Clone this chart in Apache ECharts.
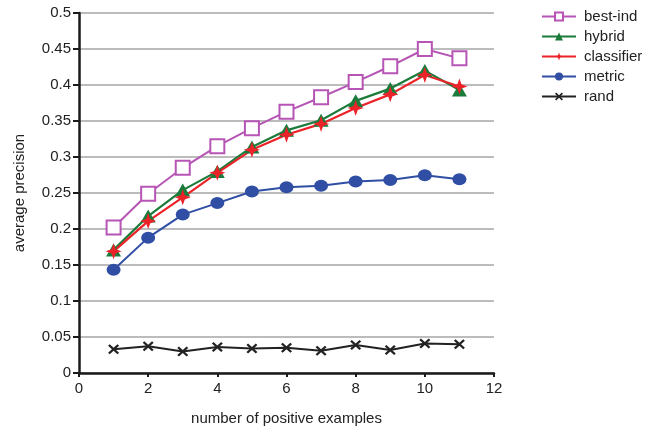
<!DOCTYPE html>
<html><head><meta charset="utf-8">
<script src="https://cdn.jsdelivr.net/npm/echarts@6/dist/echarts.min.js"></script>
<style>html,body{margin:0;padding:0;background:#fff}#c{width:665px;height:431px}</style>
</head><body><div id="c"></div>
<script>
const xValues = [1,2,3,4,5,6,7,8,9,10,11];
const bestInd = [0.202,0.249,0.285,0.315,0.340,0.363,0.383,0.404,0.426,0.450,0.437];
const hybrid = [0.171,0.218,0.254,0.280,0.314,0.337,0.351,0.378,0.395,0.420,0.393];
const classifier = [0.169,0.211,0.244,0.278,0.310,0.331,0.346,0.368,0.387,0.414,0.398];
const metric = [0.1435,0.188,0.220,0.236,0.252,0.258,0.260,0.266,0.268,0.2746,0.269];
const rand = [0.033,0.037,0.030,0.036,0.034,0.035,0.031,0.039,0.032,0.041,0.040];
const seriesNames = ['best-ind','hybrid','classifier','metric','rand'];

const star4 = 'path://M0,-10 L2.6,-2.6 L10,0 L2.6,2.6 L0,10 L-2.6,2.6 L-10,0 L-2.6,-2.6 Z';
const cross = 'path://M-10,-7 L-7,-10 L0,-3 L7,-10 L10,-7 L3,0 L10,7 L7,10 L0,3 L-7,10 L-10,7 L-3,0 Z';

function pts(arr){ return xValues.map((x,i)=>[x,arr[i]]); }
const font = 'Liberation Sans, Arial, sans-serif';

const chart = echarts.init(document.getElementById('c'));
chart.setOption({
  animation:false,
  backgroundColor:'#fff',
  grid:{left:79,right:171,top:13,bottom:57,containLabel:false},
  legend:{
    orient:'vertical', left:536, top:4, itemWidth:34, itemHeight:10, itemGap:5,
    textStyle:{fontFamily:font,fontSize:15,color:'#222',padding:[0,0,0,3]},
    data:seriesNames
  },
  xAxis:{
    type:'value', min:0, max:12, interval:2,
    name:'number of positive examples', nameLocation:'middle', nameGap:38,
    nameTextStyle:{fontFamily:font,fontSize:15,color:'#222'},
    axisLine:{lineStyle:{color:'#1a1a1a',width:2.5}},
    axisTick:{show:true,length:4,lineStyle:{color:'#1a1a1a',width:2}},
    axisLabel:{fontFamily:font,fontSize:15,color:'#222',margin:8},
    splitLine:{show:false}
  },
  yAxis:{
    type:'value', min:0, max:0.5, interval:0.05,
    name:'average precision', nameLocation:'middle', nameGap:52, nameRotate:90,
    nameTextStyle:{fontFamily:font,fontSize:15,color:'#222'},
    axisLine:{show:true,lineStyle:{color:'#1a1a1a',width:2.5}},
    axisTick:{show:true,length:6,lineStyle:{color:'#1a1a1a',width:2}},
    axisLabel:{fontFamily:font,fontSize:15,color:'#222',margin:8},
    splitLine:{show:true,lineStyle:{color:'#a6a6a6',width:1.5}}
  },
  series:[
    {name:'best-ind',type:'line',data:pts(bestInd),symbol:'rect',symbolSize:14,
     lineStyle:{color:'#b655b5',width:2},itemStyle:{color:'#fff',borderColor:'#b655b5',borderWidth:2}},
    {name:'hybrid',type:'line',data:pts(hybrid),symbol:'triangle',symbolSize:[15,13],
     lineStyle:{color:'#1b7b3b',width:2.2},itemStyle:{color:'#1b7b3b'}},
    {name:'classifier',type:'line',data:pts(classifier),symbol:star4,symbolSize:[16,16],
     lineStyle:{color:'#ec2229',width:2.2},itemStyle:{color:'#ec2229'}},
    {name:'metric',type:'line',data:pts(metric),symbol:'circle',symbolSize:[14,12],
     lineStyle:{color:'#2f4ea4',width:2},itemStyle:{color:'#2f4ea4'}},
    {name:'rand',type:'line',data:pts(rand),symbol:cross,symbolSize:[11,10],
     lineStyle:{color:'#222',width:2},itemStyle:{color:'#222'}}
  ]
});
</script></body></html>
